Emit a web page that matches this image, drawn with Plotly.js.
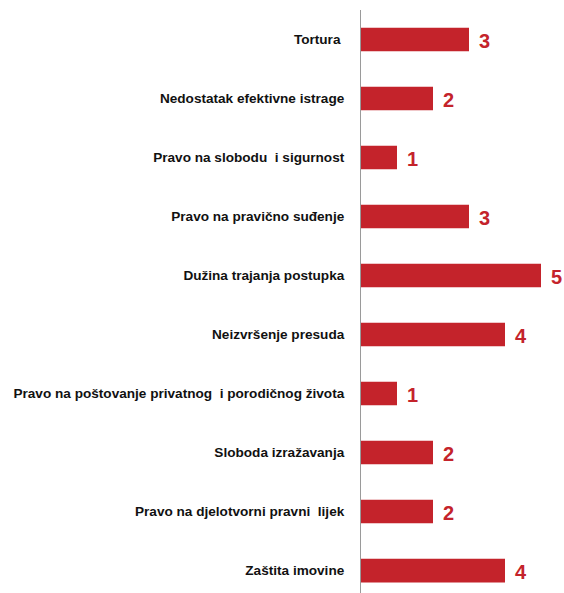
<!DOCTYPE html>
<html>
<head>
<meta charset="utf-8">
<script src="https://cdn.plot.ly/plotly-3.0.1.min.js"></script>
<style>html,body{margin:0;padding:0;background:#fff;}#chart{width:564px;height:593px;}</style>
</head>
<body>
<div id="chart"></div>
<script>
const categories = [
  "Tortura ",
  "Nedostatak efektivne istrage",
  "Pravo na slobodu  i sigurnost",
  "Pravo na pravično suđenje",
  "Dužina trajanja postupka",
  "Neizvršenje presuda",
  "Pravo na poštovanje privatnog  i porodičnog života",
  "Sloboda izražavanja",
  "Pravo na djelotvorni pravni  lijek",
  "Zaštita imovine"
];
const values = [3, 2, 1, 3, 5, 4, 1, 2, 2, 4];
const barColor = "#c4232b";

const trace = {
  type: "bar",
  orientation: "h",
  x: values,
  y: categories,
  marker: {color: barColor},
  hoverinfo: "none"
};

const annotations = values.map((v, i) => ({
  x: v, y: categories[i], xref: "x", yref: "y",
  text: String(v), showarrow: false,
  xanchor: "left", yanchor: "middle", xshift: 8, yshift: -1,
  font: {family: "Liberation Sans, Arial, sans-serif", size: 20, color: barColor, weight: "bold"}
}));

const layout = {
  width: 564, height: 593,
  margin: {l: 361, r: 3, t: 10, b: 0},
  paper_bgcolor: "#fff", plot_bgcolor: "#fff",
  showlegend: false,
  bargap: 0.6,
  xaxis: {range: [0, 200/36], visible: false, fixedrange: true},
  yaxis: {
    type: "category",
    categoryorder: "array", categoryarray: categories,
    range: [9.38, -0.5],
    showline: true, linecolor: "#9a9a9a", linewidth: 1,
    showgrid: false, zeroline: false, ticks: "",
    ticklabelstandoff: 13,
    tickfont: {family: "Liberation Sans, Arial, sans-serif", size: 13.6, color: "#111", weight: "bold"}
  },
  annotations: annotations
};

Plotly.newPlot("chart", [trace], layout, {displayModeBar: false, staticPlot: true});
</script>
</body>
</html>
